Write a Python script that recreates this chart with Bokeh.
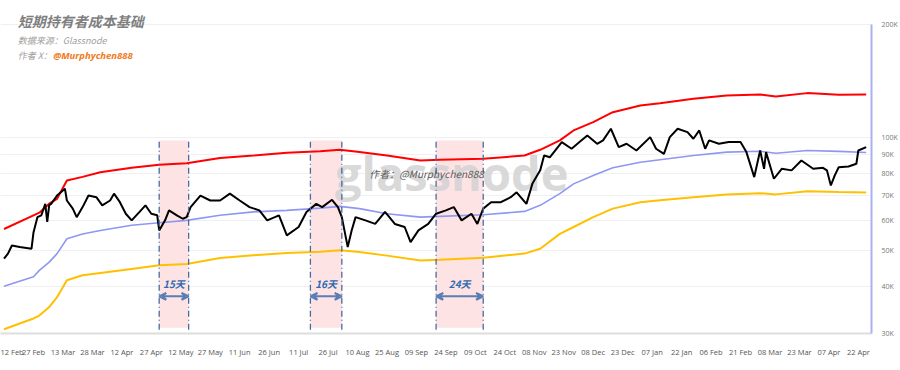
import pandas as pd
from bokeh.plotting import figure
from bokeh.models import (FixedTicker, DatetimeTickFormatter, Range1d, BoxAnnotation,
                          Label, Arrow, VeeHead, ColumnDataSource)
from bokeh.embed import file_html
from bokeh.resources import INLINE

# ---------------- data ----------------
price_dates = [
    "2024-02-12", "2024-02-14", "2024-02-16", "2024-02-20", "2024-02-26", "2024-02-27", "2024-02-29",
    "2024-03-02", "2024-03-04", "2024-03-05", "2024-03-06", "2024-03-07", "2024-03-10", "2024-03-14",
    "2024-03-15", "2024-03-18", "2024-03-20", "2024-03-23", "2024-03-26", "2024-03-30", "2024-04-02",
    "2024-04-06", "2024-04-08", "2024-04-11", "2024-04-14", "2024-04-17", "2024-04-21", "2024-04-24",
    "2024-04-27", "2024-04-30", "2024-05-01", "2024-05-04", "2024-05-06", "2024-05-10", "2024-05-13",
    "2024-05-15", "2024-05-17", "2024-05-22", "2024-05-27", "2024-06-01", "2024-06-06", "2024-06-11",
    "2024-06-16", "2024-06-21", "2024-06-25", "2024-07-01", "2024-07-05", "2024-07-11", "2024-07-15",
    "2024-07-20", "2024-07-23", "2024-07-28", "2024-07-31", "2024-08-02", "2024-08-05", "2024-08-07",
    "2024-08-09", "2024-08-14", "2024-08-19", "2024-08-24", "2024-08-29", "2024-09-03", "2024-09-06",
    "2024-09-10", "2024-09-15", "2024-09-19", "2024-09-24", "2024-09-28", "2024-10-02", "2024-10-07",
    "2024-10-10", "2024-10-13", "2024-10-17", "2024-10-22", "2024-10-27", "2024-10-30", "2024-11-04",
    "2024-11-07", "2024-11-11", "2024-11-13", "2024-11-16", "2024-11-18", "2024-11-22", "2024-11-27",
    "2024-12-01", "2024-12-05", "2024-12-10", "2024-12-13", "2024-12-17", "2024-12-21", "2024-12-25",
    "2024-12-30", "2025-01-06", "2025-01-09", "2025-01-13", "2025-01-16", "2025-01-20", "2025-01-25",
    "2025-01-28", "2025-01-31", "2025-02-03", "2025-02-05", "2025-02-10", "2025-02-15", "2025-02-21",
    "2025-02-24", "2025-02-28", "2025-03-03", "2025-03-05", "2025-03-06", "2025-03-10", "2025-03-14",
    "2025-03-19", "2025-03-24", "2025-03-30", "2025-04-04", "2025-04-06", "2025-04-08", "2025-04-10",
    "2025-04-12", "2025-04-17", "2025-04-21", "2025-04-22", "2025-04-26",
]
price_values = [
    47500, 49000, 51500, 51000, 50500, 55800, 61300,
    62000, 66500, 59500, 66000, 66500, 70000, 73000,
    67900, 64600, 61300, 65200, 70000, 69300, 65900,
    67900, 70800, 67200, 62600, 60100, 63300, 65900,
    62600, 62000, 56500, 60100, 63900, 62000, 60700,
    61300, 65200, 70000, 67900, 67900, 70800, 67900,
    65200, 63900, 60100, 62000, 54800, 57700, 63300,
    66500, 65200, 68200, 65200, 61300, 51000, 56500,
    61300, 60100, 58800, 63300, 58800, 57700, 52600,
    56500, 58800, 62600, 63900, 65200, 60100, 62600,
    58800, 64600, 67200, 67200, 69300, 71400, 66500,
    75200, 81700, 89500, 88600, 91400, 97200, 93300,
    97200, 101200, 96200, 98200, 105500, 94200, 96200,
    92300, 100200, 93300, 90400, 100200, 105500, 103300,
    99200, 104400, 93300, 98200, 96200, 97200, 97200,
    91400, 78400, 92300, 82500, 91400, 77600, 82500,
    81700, 86800, 82500, 83000, 81700, 74500, 79200,
    83300, 83700, 85100, 92300, 94200,
]

band_dates = [
    "2024-02-12", "2024-02-27", "2024-03-01", "2024-03-06", "2024-03-10", "2024-03-15", "2024-03-23",
    "2024-04-01", "2024-04-17", "2024-05-01", "2024-05-15", "2024-06-01", "2024-06-18", "2024-07-05",
    "2024-07-22", "2024-08-01", "2024-08-11", "2024-08-25", "2024-09-11", "2024-09-21", "2024-10-13",
    "2024-11-03", "2024-11-11", "2024-11-21", "2024-11-28", "2024-12-08", "2024-12-18", "2025-01-01",
    "2025-01-11", "2025-01-28", "2025-02-14", "2025-03-03", "2025-03-11", "2025-03-27", "2025-04-12",
    "2025-04-26",
]
sth_cost_basis = [
    40100, 42500, 44200, 46500, 49000, 53700, 55300,
    56500, 58300, 59200, 60100, 62000, 63300, 63900,
    64800, 65500, 64600, 62600, 61300, 61600, 62200,
    63500, 65900, 70800, 75200, 79200, 83000, 85900,
    87200, 89500, 91400, 91900, 90800, 92300, 91800,
    91200,
]
upper_band = [
    57000, 62000, 63000, 66600, 68600, 76800, 78500,
    80800, 83000, 84600, 85400, 88100, 89500, 91000,
    91900, 92700, 91400, 89500, 86800, 87200, 87700,
    89500, 92700, 98200, 104400, 109900, 116800, 121700,
    123400, 126800, 129400, 130200, 128600, 131300, 130000,
    130200,
]
lower_band = [
    30800, 32900, 33500, 35300, 37500, 41600, 42900,
    43500, 44600, 45600, 46000, 47700, 48500, 49200,
    49600, 50000, 49500, 48400, 47000, 47200, 47800,
    49000, 50500, 55300, 57700, 61300, 64600, 67200,
    68000, 69300, 70400, 71000, 70500, 71900, 71500,
    71300,
]

period_starts = ["2024-05-01", "2024-07-17", "2024-09-19"]
period_ends = ["2024-05-16", "2024-08-02", "2024-10-13"]
period_labels = ["15天", "16天", "24天"]

x_tick_dates = [
    "2024-02-12", "2024-02-27", "2024-03-13", "2024-03-28", "2024-04-12", "2024-04-27",
    "2024-05-12", "2024-05-27", "2024-06-11", "2024-06-26", "2024-07-11", "2024-07-26",
    "2024-08-10", "2024-08-25", "2024-09-09", "2024-09-24", "2024-10-09", "2024-10-24",
    "2024-11-08", "2024-11-23", "2024-12-08", "2024-12-23", "2025-01-07", "2025-01-22",
    "2025-02-06", "2025-02-21", "2025-03-08", "2025-03-23", "2025-04-07", "2025-04-22",
]
y_ticks = [30000, 40000, 50000, 60000, 70000, 80000, 90000, 100000, 200000]
y_tick_labels = ["30K", "40K", "50K", "60K", "70K", "80K", "90K", "100K", "200K"]

title_text = "短期持有者成本基础"
source_text = "数据来源：Glassnode"
author_prefix = "作者 X："
author_handle = "@Murphychen888"
watermark_text = "glassnode"
watermark_author = "作者：@Murphychen888"


# ---------------- helpers ----------------
def ms(d):
    return (pd.Timestamp(d) - pd.Timestamp("1970-01-01")) / pd.Timedelta(milliseconds=1)


CJK = "Noto Sans CJK SC"
ARROW_C = "#5a7db3"
DASH_C = "#4a6a9e"

ref = pd.Timestamp("2024-02-27")
x_start = ref - pd.Timedelta(days=16.8)
x_end = ref + pd.Timedelta(days=426.7)

p = figure(
    x_axis_type="datetime", y_axis_type="log", y_axis_location="right",
    frame_width=871, frame_height=333,
    x_range=Range1d(x_start, x_end), y_range=Range1d(30000, 231900),
    output_backend="svg", toolbar_location=None,
    min_border_left=0, min_border_top=0, min_border_right=4, min_border_bottom=4,
)
p.outline_line_color = None
p.background_fill_color = "white"
p.border_fill_color = "white"

# axes
yax = p.yaxis[0]
yax.ticker = FixedTicker(ticks=y_ticks)
yax.major_label_overrides = {t: l for t, l in zip(y_ticks, y_tick_labels)}
yax.bounds = (30000, 200000)
yax.axis_line_color = "#aab1ee"
yax.axis_line_width = 2
yax.major_tick_line_color = None
yax.minor_tick_line_color = None
yax.major_label_text_font = "Open Sans"
yax.major_label_text_font_size = "7px"
yax.major_label_text_color = "#777777"
yax.major_label_standoff = 4

xax = p.xaxis[0]
xax.ticker = FixedTicker(ticks=[ms(d) for d in x_tick_dates])
fmt = "%d %b"
xax.formatter = DatetimeTickFormatter(days=fmt, months=fmt, years=fmt, hours=fmt,
                                      hourmin=fmt, minutes=fmt, minsec=fmt, seconds=fmt,
                                      milliseconds=fmt, microseconds=fmt)
xax.axis_line_color = "#dedede"
xax.axis_line_width = 2
xax.major_tick_line_color = None
xax.minor_tick_line_color = None
xax.major_label_text_font = "Open Sans"
xax.major_label_text_font_size = "7.5px"
xax.major_label_text_color = "#555555"
xax.major_label_standoff = 7

p.xgrid.grid_line_color = None
p.ygrid.grid_line_color = "#f0f0f0"
p.ygrid.grid_line_width = 1

# shaded periods
BAND_TOP, BAND_BOTTOM = 98200, 31100
for s, e in zip(period_starts, period_ends):
    p.add_layout(BoxAnnotation(left=ms(s), right=ms(e), top=BAND_TOP, bottom=BAND_BOTTOM,
                               fill_color="#fde3e4", fill_alpha=1.0, line_color=None,
                               level="underlay"))

# watermark
p.add_layout(Label(x=ms("2024-09-27"), y=80200, text=watermark_text, text_font="Open Sans",
                   text_font_size="47px", text_font_style="bold", text_color="#d4d4d4",
                   text_alpha=0.9, text_align="center", text_baseline="middle", level="underlay"))

# lines
p.line(pd.to_datetime(band_dates), lower_band, line_color="#ffc000", line_width=2)
p.line(pd.to_datetime(band_dates), sth_cost_basis, line_color="#8e97f2", line_width=1.6)
p.line(pd.to_datetime(band_dates), upper_band, line_color="#ff0000", line_width=2)
p.line(pd.to_datetime(price_dates), price_values, line_color="#000000", line_width=2)

# dashed period boundaries
bx = [ms(d) for d in period_starts + period_ends]
seg = ColumnDataSource(dict(x0=bx, x1=bx, y0=[BAND_BOTTOM - 400] * len(bx), y1=[BAND_TOP] * len(bx)))
p.segment(x0="x0", y0="y0", x1="x1", y1="y1", source=seg, line_color=DASH_C,
          line_width=1.3, line_dash="6 3 1 3")

# arrows and day labels
ARROW_Y, LABEL_Y = 37700, 40800
for s, e, lab in zip(period_starts, period_ends, period_labels):
    p.add_layout(Arrow(start=VeeHead(size=7, line_color=ARROW_C, line_width=2, fill_color=None),
                       end=VeeHead(size=7, line_color=ARROW_C, line_width=2, fill_color=None),
                       x_start=ms(s), x_end=ms(e), y_start=ARROW_Y, y_end=ARROW_Y,
                       line_color=ARROW_C, line_width=2))
    mid = (ms(s) + ms(e)) / 2
    p.add_layout(Label(x=mid, y=LABEL_Y, text=lab, text_font=CJK, text_font_size="10px",
                       text_font_style="bold italic", text_color="#2f6bb0",
                       text_align="center", text_baseline="middle"))

# titles
p.add_layout(Label(x=ms("2024-02-19"), y=205000, text=title_text, text_font=CJK,
                   text_font_size="14px", text_font_style="bold italic", text_color="#7f7f7f",
                   text_align="left", text_baseline="middle"))
p.add_layout(Label(x=ms("2024-02-19"), y=181000, text=source_text, text_font=CJK,
                   text_font_size="9px", text_font_style="italic", text_color="#a0a0a0",
                   text_align="left", text_baseline="middle"))
p.add_layout(Label(x=ms("2024-02-19"), y=165000, text=author_prefix, text_font=CJK,
                   text_font_size="9px", text_font_style="italic", text_color="#a0a0a0",
                   text_align="left", text_baseline="middle"))
p.add_layout(Label(x=ms("2024-03-08"), y=165000, text=author_handle, text_font="Open Sans",
                   text_font_size="9.5px", text_font_style="bold italic", text_color="#f07a22",
                   text_align="left", text_baseline="middle"))
p.add_layout(Label(x=ms("2024-08-16"), y=80200, text=watermark_author, text_font=CJK,
                   text_font_size="10px", text_font_style="italic", text_color="#5a5a5a",
                   text_align="left", text_baseline="middle"))

open("out.html", "w").write(file_html(p, INLINE))
